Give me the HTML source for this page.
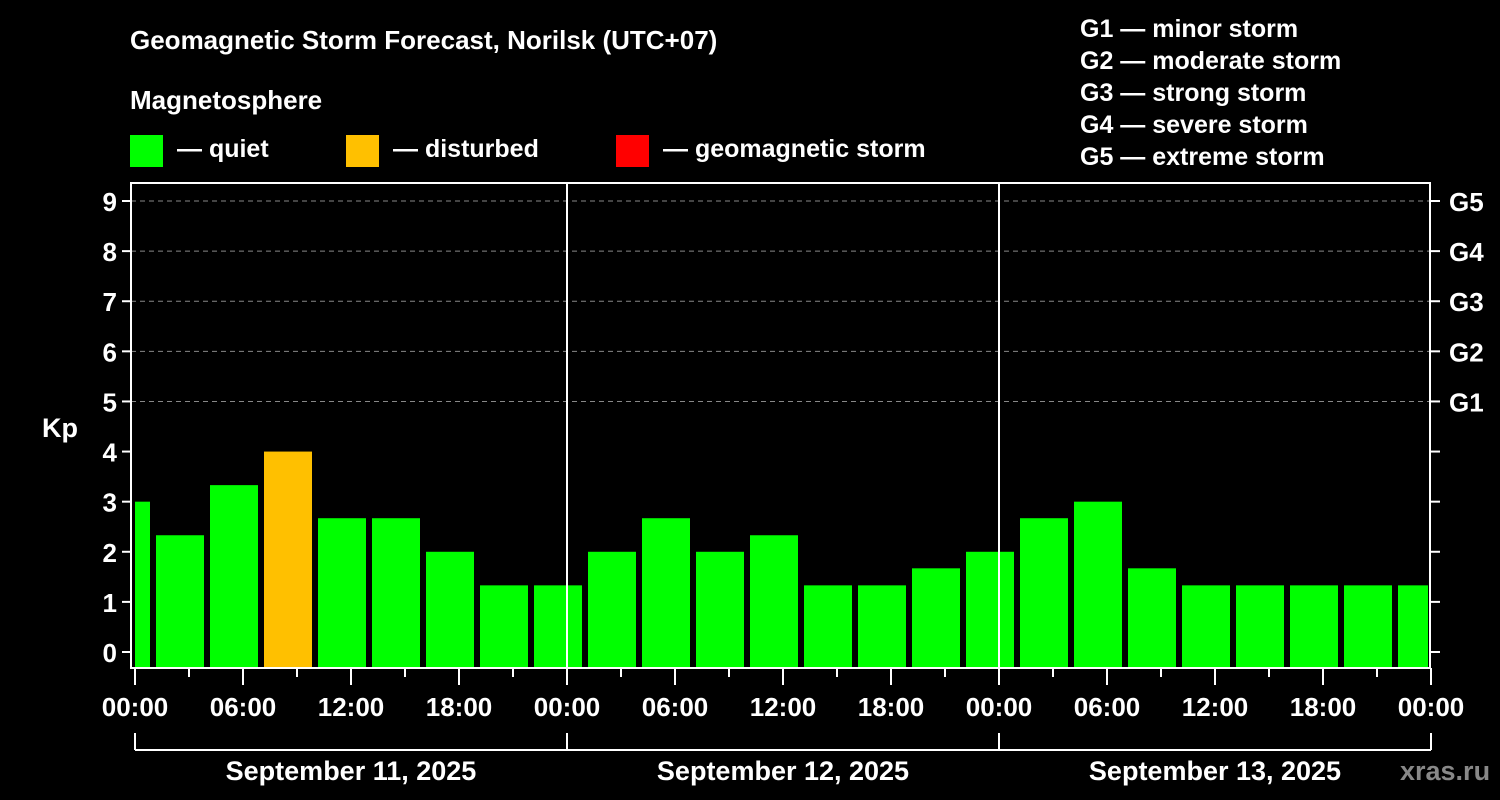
<!DOCTYPE html>
<html><head><meta charset="utf-8"><style>
html,body{margin:0;padding:0;background:#000;}
svg{display:block;font-family:"Liberation Sans",Arial,sans-serif;font-weight:bold;}
</style></head><body>
<svg id="chart" width="1500" height="800" viewBox="0 0 1500 800" xmlns="http://www.w3.org/2000/svg">
<rect width="1500" height="800" fill="#000"/>
<text x="130" y="49" fill="#fff" font-size="26">Geomagnetic Storm Forecast, Norilsk (UTC+07)</text>
<text x="130" y="109" fill="#fff" font-size="26">Magnetosphere</text>
<g><rect x="130" y="135" width="33" height="32" fill="#00ff00"/><text x="177" y="157" fill="#fff" font-size="25">— quiet</text></g>
<g><rect x="346" y="135" width="33" height="32" fill="#ffc000"/><text x="393" y="157" fill="#fff" font-size="25">— disturbed</text></g>
<g><rect x="616" y="135" width="33" height="32" fill="#ff0000"/><text x="663" y="157" fill="#fff" font-size="25">— geomagnetic storm</text></g>
<g fill="#fff" font-size="25">
<text x="1080" y="37">G1 — minor storm</text>
<text x="1080" y="69">G2 — moderate storm</text>
<text x="1080" y="101">G3 — strong storm</text>
<text x="1080" y="133">G4 — severe storm</text>
<text x="1080" y="165">G5 — extreme storm</text>
</g>
<g id="grid"></g>
<g id="bars"></g>
<g id="axes"></g>
<text x="42" y="437" fill="#fff" font-size="27">Kp</text>
<text x="1400" y="780" fill="#888" font-size="27">xras.ru</text>
</svg>
<script>
const values = [3, 2.33, 3.33, 4, 2.67, 2.67, 2, 1.33, 1.33, 2, 2.67, 2, 2.33, 1.33, 1.33, 1.67, 2, 2.67, 3, 1.67, 1.33, 1.33, 1.33, 1.33, 1.33];
const firstStartHour = -2;
const yTicks = [0,1,2,3,4,5,6,7,8,9];
const gLabels = ["G1","G2","G3","G4","G5"];
const xTickLabels = ["00:00","06:00","12:00","18:00"];
const days = ["September 11, 2025","September 12, 2025","September 13, 2025"];

const NS="http://www.w3.org/2000/svg";
const L=131,R=1430,T=183,B=668,X0=135,PXH=18;
const y=v=>652-50.11*v;
const x=h=>X0+h*PXH;
function mk(tag,attrs,parent){const e=document.createElementNS(NS,tag);for(const k in attrs)e.setAttribute(k,attrs[k]);parent.appendChild(e);return e;}
const grid=document.getElementById('grid'),bars=document.getElementById('bars'),axes=document.getElementById('axes');
for(let v=5;v<=9;v++){
  const l=mk('line',{x1:L,x2:R,y1:y(v),y2:y(v),stroke:'#888','stroke-width':1,'stroke-dasharray':'5,4'},grid);
  
  
}
values.forEach((v,i)=>{
  const h0=firstStartHour+i*3;
  let a=x(h0)+3,b=x(h0+3)-3;
  a=Math.max(a,X0);b=Math.min(b,R-2);
  const c=v>=5?'#ff0000':(v>=4?'#ffc000':'#00ff00');
  const r=mk('rect',{x:a,y:y(v),width:b-a,height:B-y(v),fill:c},bars);
  
  
});
// frame
const f=mk('rect',{x:L,y:T,width:R-L,height:B-T,fill:'none',stroke:'#fff','stroke-width':2},axes);


for(let d=1;d<3;d++){mk('line',{x1:x(24*d),x2:x(24*d),y1:T,y2:B,stroke:'#fff','stroke-width':2},axes);}
yTicks.forEach(v=>{
  mk('line',{x1:L-9,x2:L,y1:y(v),y2:y(v),stroke:'#fff','stroke-width':2},axes);
  mk('line',{x1:R,x2:R+10,y1:y(v),y2:y(v),stroke:'#fff','stroke-width':2},axes);
  const t=mk('text',{x:L-14,y:y(v)+10,fill:'#fff','font-size':26,'text-anchor':'end'},axes);
  t.textContent=v;
  
  
});
gLabels.forEach((g,i)=>{
  const t=mk('text',{x:1449,y:y(5+i)+10,fill:'#fff','font-size':26},axes);
  t.textContent=g;
  
  
});
for(let h=0;h<=72;h+=3){
  const major=h%6===0;
  mk('line',{x1:x(h),x2:x(h),y1:B,y2:B+(major?17:9),stroke:'#fff','stroke-width':2},axes);
  if(major){
    const t=mk('text',{x:x(h),y:716,fill:'#fff','font-size':26,'text-anchor':'middle'},axes);
    t.textContent=xTickLabels[(h%24)/6];
    
    
  }
}
mk('line',{x1:x(0),x2:x(72),y1:750,y2:750,stroke:'#fff','stroke-width':2},axes);
for(let d=0;d<=3;d++)mk('line',{x1:x(24*d),x2:x(24*d),y1:733,y2:750,stroke:'#fff','stroke-width':2},axes);
days.forEach((s,i)=>{
  const t=mk('text',{x:x(24*i+12),y:780,fill:'#fff','font-size':27,'text-anchor':'middle'},axes);
  t.textContent=s;
  
  
});
</script>
</body></html>
